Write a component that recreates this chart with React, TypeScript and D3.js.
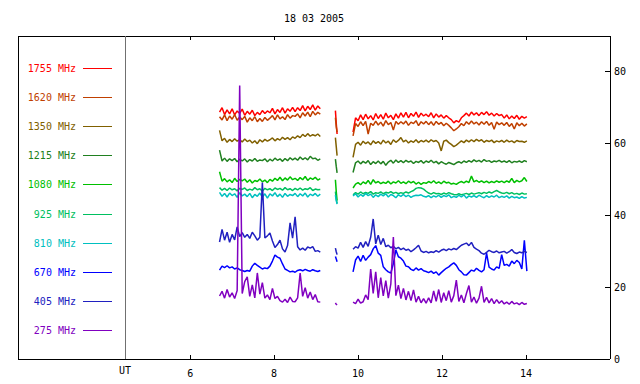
import React from "react";
import * as d3 from "d3";

const TITLE = "18 03 2005";
const FREQS = ["1755 MHz", "1620 MHz", "1350 MHz", "1215 MHz", "1080 MHz", "925 MHz", "810 MHz", "670 MHz", "405 MHz", "275 MHz"];
const COLORS = ["#ff0000", "#c04000", "#806000", "#208020", "#00c000", "#00c060", "#00c0c0", "#0000ff", "#2020c0", "#8000c0"];
const X_TICKS = [6, 8, 10, 12, 14];
const Y_TICKS = [0, 20, 40, 60, 80];
const UT_HOUR = 4.45;

// sampling of the three observation segments (hours UT)
const SEG1_START = 6.7;
const SEG3_START = 9.88;
const STEP = 0.06;
const MID_TIMES = [9.46, 9.48, 9.5];

// 1755 MHz
const a1755 = [68.6,69.8,67.9,69.2,68.1,69.5,67.8,68.9,68.2,69.4, 67.7,68.8,68.0,69.1,67.6,68.5,67.9,69.0,68.2,68.9, 68.4,69.6,68.1,69.3,68.5,69.8,68.3,69.5,68.8,69.9, 68.7,69.8,69.0,70.4,68.9,70.2,69.3,70.6,69.1,70.3, 69.5];
const m1755 = [69.0, 65.5, 62.5];
const b1755 = [63.0,67.0,66.2,67.8,66.5,68.0,66.7,67.6,66.4,68.2, 66.8,67.9,66.6,68.3,67.0,67.7,66.5,68.1,66.9,68.4, 67.2,68.5,67.0,68.2,67.4,68.6,67.1,68.3,67.5,68.0, 67.3,68.4,67.0,68.1,67.2,67.8,66.9,67.6,67.0,66.5, 65.6,66.2,65.8,67.0,67.6,68.3,67.5,68.6,67.8,68.4, 67.6,68.5,67.9,68.7,67.7,68.3,67.5,68.2,67.6,67.9, 66.9,67.8,66.7,67.5,66.8,67.7,66.6,67.4,66.9,67.3];
// 1620 MHz
const a1620 = [67.3,66.4,67.8,66.2,67.5,66.6,67.9,66.3,67.2,66.5, 67.4,65.8,67.0,66.2,67.3,65.9,66.8,66.0,67.1,66.3, 66.9,67.6,66.4,67.8,66.7,67.3,66.5,67.9,66.9,67.6, 67.4,68.1,67.0,68.4,67.5,68.6,67.3,68.8,67.8,68.5, 68.0];
const m1620 = [67.0, 64.5, 63.0];
const b1620 = [62.0,65.4,64.6,65.9,64.8,66.0,62.5,65.5,64.9,66.1, 65.0,65.8,64.7,66.2,65.1,65.7,63.6,66.0,65.2,65.9, 65.3,66.1,64.9,65.8,65.4,66.2,64.8,65.9,65.3,66.0, 65.1,65.9,64.9,66.0,65.2,65.7,64.8,65.5,64.9,64.2, 63.4,63.9,64.5,65.4,64.8,65.9,65.2,66.1,65.3,65.8, 65.0,65.9,65.2,66.0,64.9,65.7,63.8,65.8,65.1,65.6, 64.9,65.7,64.6,65.4,63.9,65.6,64.8,65.5,64.7,65.3];
// 1350 MHz
const a1350 = [63.5,60.6,61.3,60.2,61.0,60.4,61.2,60.5,60.9,60.3, 61.1,60.4,60.8,60.0,60.6,59.8,60.9,60.3,61.0,60.5, 60.9,61.4,60.6,61.2,60.8,61.6,61.0,61.5,60.9,61.7, 61.3,62.0,61.5,62.4,61.8,62.6,61.9,62.3,62.0,62.5, 61.8];
const m1350 = [61.5, 59.0, 56.5];
const b1350 = [56.0,59.6,60.2,59.4,60.5,59.8,60.3,59.5,60.6,59.9, 60.4,59.7,60.8,60.0,60.5,59.6,60.9,60.2,60.7,61.5, 60.3,60.8,60.0,60.6,60.2,60.9,60.1,60.7,60.3,60.8, 60.2,60.9,60.4,60.7,60.0,57.8,60.5,60.8,60.1,59.6, 59.0,59.4,60.0,60.6,60.1,60.8,60.3,60.9,60.4,61.0, 60.5,60.9,60.2,60.7,60.4,60.8,60.1,60.6,60.3,60.7, 60.2,60.8,60.3,60.6,60.1,60.7,60.4,60.5,60.2,60.6];
// 1215 MHz
const a1215 = [58.0,55.0,55.8,54.9,55.6,55.1,55.7,54.8,55.5,55.0, 55.6,54.7,55.4,55.0,55.7,54.9,55.3,55.1,55.6,54.8, 55.5,55.0,55.8,55.2,55.6,54.9,55.7,55.1,55.9,55.3, 55.8,55.2,56.1,55.4,55.9,55.3,56.3,55.6,55.8,55.2, 55.6];
const m1215 = [55.5, 53.5, 51.7];
const b1215 = [51.8,54.5,55.0,54.2,54.9,54.4,55.1,54.0,54.8,54.3, 55.0,54.2,54.9,53.8,54.7,55.2,54.4,55.3,54.6,55.1, 54.5,55.2,54.7,55.0,54.3,54.9,54.6,55.1,54.4,55.0, 54.6,55.2,54.5,54.9,54.2,54.8,54.4,54.1,54.6,54.3, 54.0,54.5,54.8,54.4,55.0,54.6,55.1,54.7,55.3,54.8, 55.2,54.7,55.4,54.9,55.1,54.6,55.0,54.8,55.2,54.7, 55.0,54.6,55.1,54.5,54.9,54.7,55.0,54.6,55.1,54.8];
// 1080 MHz
const a1080 = [52.0,49.4,50.1,49.2,49.8,49.0,50.2,49.3,49.9,49.5, 50.0,49.1,49.8,48.9,49.6,49.3,50.0,49.2,49.7,49.0, 49.9,49.4,50.2,49.6,50.5,49.5,50.3,49.7,50.6,49.8, 50.2,49.6,50.4,49.8,50.7,49.6,50.3,49.9,50.5,49.7, 50.1];
const m1080 = [49.8, 46.5, 44.0];
const b1080 = [47.5,48.6,49.0,48.4,49.2,48.7,49.6,48.5,49.8,48.9, 49.3,48.7,49.1,48.8,49.4,48.6,49.2,48.9,49.5,48.8, 49.2,48.7,49.4,48.9,49.3,48.6,49.1,48.5,49.0,48.8, 49.3,48.9,49.5,48.8,49.2,48.7,49.4,48.9,49.1,48.6, 48.8,48.5,49.0,49.3,48.9,49.4,49.0,50.8,49.2,49.6, 49.1,49.5,49.0,49.4,48.9,49.3,49.0,49.5,49.1,49.4, 49.0,49.5,49.1,50.2,49.0,49.6,49.2,49.5,50.4,49.3];
// 925 MHz
const a925 = [47.6,46.9,47.4,46.8,47.5,47.0,47.3,46.7,47.4,47.1, 47.5,46.8,47.2,46.9,47.6,47.0,47.3,46.6,47.4,47.0, 47.3,46.8,47.5,47.1,47.4,46.9,47.6,47.0,47.3,46.8, 47.4,47.0,47.5,46.9,47.3,47.1,47.6,46.8,47.2,47.0, 47.1];
const m925 = [46.5, 44.5, 43.2];
const b925 = [45.6,46.2,45.8,46.4,45.9,46.3,46.0,46.5,45.8,46.2, 46.0,46.4,45.9,46.3,46.1,46.5,46.0,46.3,45.9,46.2, 46.0,46.4,46.1,46.5,46.8,47.4,47.6,47.5,47.2,46.6, 46.1,45.8,46.2,45.9,46.0,45.7,46.1,45.8,46.2,45.9, 45.7,45.6,45.9,45.6,45.8,46.0,45.7,46.1,45.8,46.0, 46.2,45.9,46.3,46.0,46.4,46.1,46.5,46.8,46.4,46.1, 46.0,46.3,45.9,46.2,45.8,46.0,45.7,46.1,45.8,45.9];
// 810 MHz
const a810 = [46.3,45.2,46.0,45.0,46.1,45.4,45.9,44.9,46.2,45.3, 45.8,45.1,46.0,44.8,45.7,45.2,46.1,45.0,45.9,44.7, 45.9,45.3,46.2,45.1,45.8,44.9,46.0,45.2,45.7,45.4, 46.0,45.1,45.9,45.3,46.1,45.0,45.8,45.4,46.0,45.2, 45.8];
const m810 = [45.5, 44.0, 43.0];
const b810 = [45.3,45.9,45.0,45.7,45.2,46.0,45.4,45.8,44.9,45.6, 45.1,45.8,45.3,45.9,45.0,45.7,45.4,44.8,45.6,45.2, 45.7,45.1,45.5,44.9,45.3,45.5,45.4,45.6,45.2,45.0, 45.4,44.8,45.3,45.0,45.5,44.9,45.4,45.1,45.6,44.8, 45.2,44.9,45.5,45.0,45.6,44.7,45.3,45.0,45.4,44.9, 45.5,45.1,44.8,45.4,44.9,45.3,45.0,45.5,44.8,45.2, 44.9,45.3,44.7,45.2,44.8,45.0,44.6,45.1,44.7,44.9];
// 670 MHz
const a670 = [24.7,25.8,25.4,25.9,25.3,25.6,25.0,25.3,24.8,24.6, 24.3,24.6,24.4,25.8,26.6,26.0,25.5,25.0,25.3,25.1, 25.8,27.2,28.9,28.3,28.0,26.4,25.0,24.6,24.2,24.4, 24.1,24.6,24.8,24.5,24.9,24.6,24.4,24.8,24.5,24.3, 24.6];
const m670 = [28.5, 27.8, 27.0];
const b670 = [24.2,27.5,28.6,27.1,28.8,27.4,28.3,29.0,30.6,31.5, 29.4,28.8,25.6,24.8,24.2,23.9,26.5,30.3,28.4,28.0, 27.2,25.8,25.6,24.9,24.6,25.3,24.7,25.1,24.5,24.3, 24.0,24.4,23.8,24.2,23.3,24.0,24.6,25.2,25.6,26.2, 26.7,26.0,24.8,24.2,23.4,23.3,24.0,24.7,24.4,25.2, 24.6,24.2,24.8,29.4,25.5,25.0,24.7,25.6,25.2,29.0, 26.0,26.3,25.8,27.2,26.5,27.4,26.8,25.0,33.0,24.4];
// 405 MHz
const a405 = [32.5,36.0,33.0,35.2,32.4,34.6,33.1,36.7,34.0,35.1, 33.8,34.6,33.5,35.2,34.2,33.0,33.8,49.0,33.6,34.2, 35.0,32.8,31.0,31.8,33.0,30.6,29.7,31.5,37.8,33.6, 39.5,31.2,30.3,30.8,30.2,31.1,30.8,31.2,29.9,30.1, 29.7];
const m405 = [30.8, 29.8, 29.0];
const b405 = [30.5,31.2,30.8,32.4,31.0,32.6,31.3,33.8,38.9,32.0, 34.4,31.8,33.5,31.2,31.6,30.9,31.3,30.6,31.0,30.4, 30.8,30.2,30.5,29.8,30.3,30.9,31.6,30.0,29.6,29.9, 29.5,29.8,29.6,30.1,29.7,30.2,30.5,30.1,30.6,30.3, 30.7,30.4,31.0,31.6,31.9,32.2,31.5,32.4,31.0,30.5, 30.1,29.4,29.1,29.6,30.2,29.8,29.6,30.0,29.5,29.7, 29.9,29.4,29.8,30.4,29.6,29.3,29.7,29.5,29.9,29.6];
// 275 MHz
const a275 = [17.5,18.8,16.9,19.3,17.2,18.4,16.8,19.0,76.0,18.2, 21.5,22.8,17.4,20.6,17.0,23.9,18.0,21.2,16.9,17.8, 16.5,19.6,16.8,17.4,16.2,15.8,16.6,15.7,17.2,16.0, 15.9,17.0,23.9,17.4,19.8,16.9,18.6,16.5,17.9,15.9, 15.8];
const m275 = [15.6, 15.2, 15.0];
const b275 = [15.8,15.4,16.6,15.5,15.9,17.8,16.5,25.0,18.2,24.2, 17.0,22.6,17.5,21.8,16.9,20.9,33.9,17.6,20.5,16.8, 19.6,16.4,18.8,16.2,19.2,15.8,17.4,15.6,16.8,15.5, 17.0,15.6,18.9,16.0,19.3,15.7,18.4,16.2,19.0,15.8, 17.6,21.9,16.0,17.8,15.6,18.2,20.4,15.8,17.2,15.5, 16.9,20.2,15.7,17.1,15.6,16.8,15.4,16.5,15.5,16.2, 15.3,15.8,15.2,16.0,15.3,15.6,15.1,15.7,15.2,15.4];

const SEG_A = [a1755, a1620, a1350, a1215, a1080, a925, a810, a670, a405, a275];
const SEG_M = [m1755, m1620, m1350, m1215, m1080, m925, m810, m670, m405, m275];
const SEG_B = [b1755, b1620, b1350, b1215, b1080, b925, b810, b670, b405, b275];

const FONT = "'DejaVu Sans Mono', monospace";

export default function App() {
  const x = d3.scaleLinear().domain([1.9, 16]).range([18, 610]);
  const y = d3.scaleLinear().domain([0, 90]).range([359, 35]);
  const line = d3
    .line<[number, number]>()
    .x((d) => x(d[0]))
    .y((d) => y(d[1]));

  const toPts = (vals: number[], start: number): [number, number][] =>
    vals.map((v, i) => [start + i * STEP, v]);
  const toPtsT = (vals: number[], times: number[]): [number, number][] =>
    vals.map((v, i) => [times[i], v]);

  const left = 18, right = 610, top = 36, bottom = 359;

  return (
    <svg
      width={640}
      height={384}
      style={{ position: "absolute", left: 0, top: 0, background: "#fff" }}
      fontFamily={FONT}
      fontSize={10}
    >
      <rect x={0} y={0} width={640} height={384} fill="#fff" />
      <text x={314} y={22} textAnchor="middle" fill="#000">{TITLE}</text>

      {/* data */}
      <g fill="none" strokeWidth={1.5} strokeLinejoin="bevel">
        {FREQS.map((f, k) => (
          <g key={f} stroke={COLORS[k]}>
            <path d={line(toPts(SEG_A[k], SEG1_START)) || ""} />
            <path d={line(toPtsT(SEG_M[k], MID_TIMES)) || ""} />
            <path d={line(toPts(SEG_B[k], SEG3_START)) || ""} />
          </g>
        ))}
      </g>

      {/* frame */}
      <g shapeRendering="crispEdges" stroke="#000" strokeWidth={1} fill="none">
        <line x1={left} y1={top} x2={right} y2={top} />
        <line x1={left} y1={bottom} x2={right} y2={bottom} />
        <line x1={left} y1={top} x2={left} y2={bottom} />
        <line x1={right} y1={top} x2={right} y2={bottom} />
        {X_TICKS.map((t) => (
          <g key={t}>
            <line x1={x(t)} y1={bottom} x2={x(t)} y2={bottom - 4} />
            <line x1={x(t)} y1={top} x2={x(t)} y2={top + 4} />
          </g>
        ))}
        {Y_TICKS.filter((t) => t > 0).map((t) => (
          <line key={t} x1={right - 5} y1={y(t)} x2={right} y2={y(t)} />
        ))}
      </g>
      <line x1={x(UT_HOUR)} y1={top} x2={x(UT_HOUR)} y2={bottom} stroke="#707070" strokeWidth={1} shapeRendering="crispEdges" />

      {X_TICKS.map((t) => (
        <text key={t} x={x(t)} y={377} textAnchor="middle" fill="#000">{t}</text>
      ))}
      <text x={x(UT_HOUR)} y={374} textAnchor="middle" fill="#000">UT</text>
      {Y_TICKS.map((t) => (
        <text key={t} x={614} y={y(t) + 4} fill="#000">{t}</text>
      ))}

      {/* legend */}
      {FREQS.map((f, k) => {
        const yy = Math.round(67.5 + 29.2 * k);
        return (
          <g key={f}>
            <text x={76} y={yy + 4} textAnchor="end" fill={COLORS[k]}>{f}</text>
            <line x1={83} x2={112} y1={yy} y2={yy} stroke={COLORS[k]} strokeWidth={1} shapeRendering="crispEdges" />
          </g>
        );
      })}
    </svg>
  );
}
